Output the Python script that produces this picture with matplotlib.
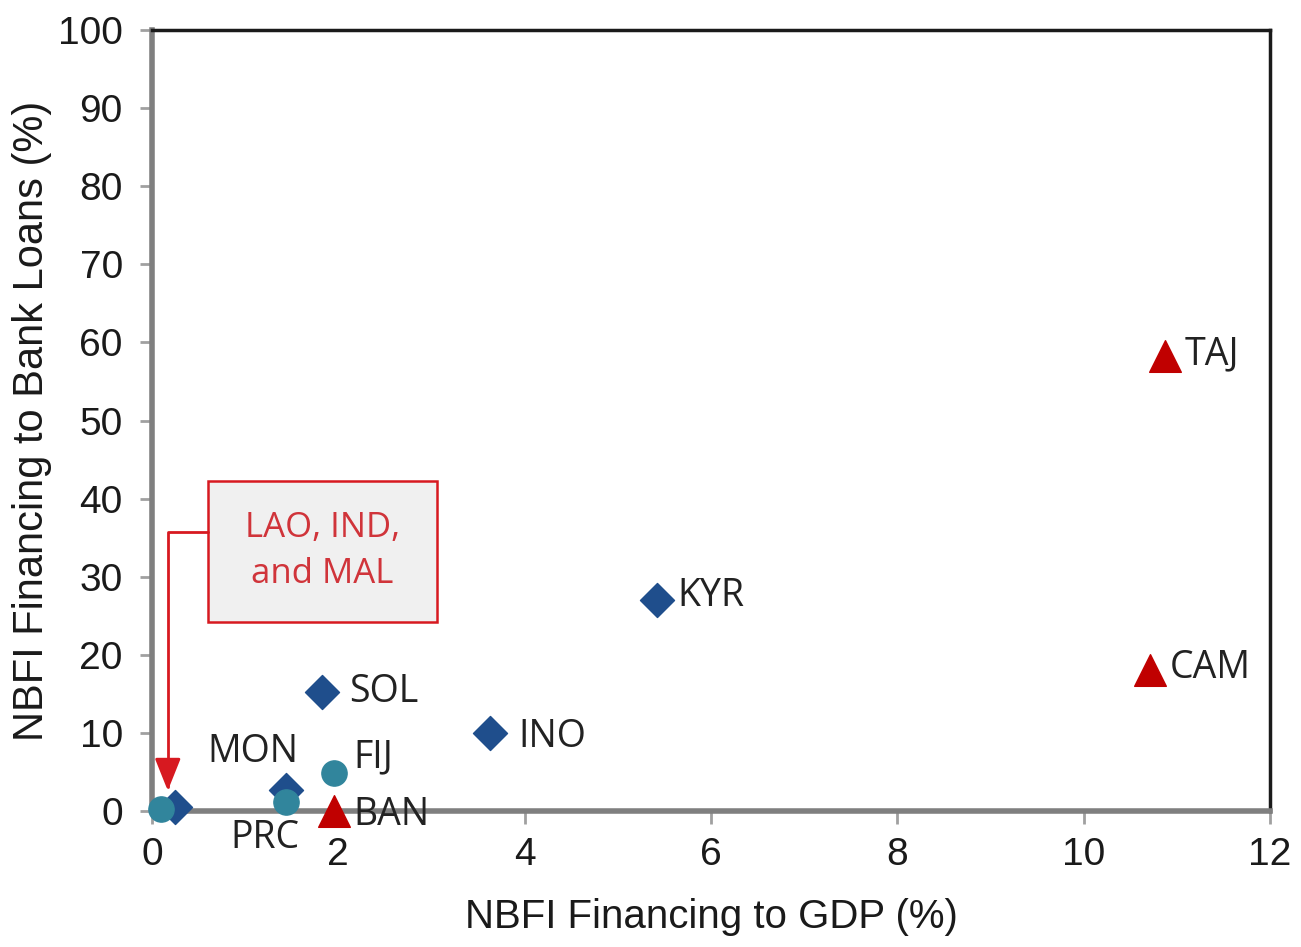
import matplotlib.pyplot as plt
from matplotlib.patches import Rectangle

# NBFI financing: x = % of GDP, y = % of bank loans
dia_names = ["", "MON", "SOL", "INO", "KYR"]
dia_x = [0.25, 1.44, 1.83, 3.63, 5.42]
dia_y = [0.5, 2.7, 15.2, 10.0, 27.0]

circ_names = ["", "PRC", "FIJ"]
circ_x = [0.10, 1.44, 1.95]
circ_y = [0.3, 1.2, 4.9]

tri_names = ["BAN", "CAM", "TAJ"]
tri_x = [1.95, 10.71, 10.87]
tri_y = [0.0, 18.0, 58.3]

x_ticks = [0, 2, 4, 6, 8, 10, 12]
y_ticks = [0, 10, 20, 30, 40, 50, 60, 70, 80, 90, 100]

BLUE = "#1F4E8C"
TEAL = "#31859C"
RED = "#C00000"
ARROW_RED = "#D71920"

fig = plt.figure(figsize=(13.01, 9.47), dpi=100)
ax = fig.add_axes([0.1168, 0.1436, 0.8594, 0.8247])

ax.scatter(dia_x, dia_y, marker="D", s=300, color=BLUE, zorder=4, clip_on=False)
ax.scatter(circ_x, circ_y, marker="o", s=330, color=TEAL, zorder=5, clip_on=False)
ax.scatter(tri_x, tri_y, marker="^", s=520, color=RED, zorder=4, clip_on=False)

lab_font = dict(family="Open Sans", fontsize=27, color="#222222", zorder=6)
# label offsets in points relative to each marker
offsets = {
    "MON": (-57, 27), "SOL": (19, 0), "INO": (20, -3), "KYR": (15, 3),
    "PRC": (-40, -26), "FIJ": (14, 11), "BAN": (14, -3),
    "CAM": (14, 2), "TAJ": (14, 1),
}
for names, xs, ys in [(dia_names, dia_x, dia_y), (circ_names, circ_x, circ_y),
                      (tri_names, tri_x, tri_y)]:
    for n, x, y in zip(names, xs, ys):
        if not n:
            continue
        ax.annotate(n, (x, y), xytext=offsets[n], textcoords="offset points",
                    va="center", ha="left", **lab_font)

# callout box for the points sitting at the origin
bx0, bx1, by0, by1 = 0.60, 3.06, 24.2, 42.3
ax.add_patch(Rectangle((bx0, by0), bx1 - bx0, by1 - by0, facecolor="#F0F0F0",
                       edgecolor=ARROW_RED, linewidth=1.8, zorder=3))
ax.text((bx0 + bx1) / 2, (by0 + by1) / 2, "LAO, IND,\nand MAL", ha="center",
        va="center", family="Open Sans", fontsize=25, color="#D0343A",
        linespacing=1.45, zorder=4)
ax.annotate("", xy=(0.17, 2.6), xytext=(bx0, 35.7),
            arrowprops=dict(arrowstyle="-|>,head_length=2.0,head_width=0.8",
                            color=ARROW_RED, lw=2,
                            connectionstyle="angle,angleA=0,angleB=90,rad=0",
                            shrinkA=0, shrinkB=0), zorder=6)

ax.set_xlim(0, 12)
ax.set_ylim(0, 100)
ax.set_xticks(x_ticks)
ax.set_yticks(y_ticks)

tick_font = dict(family="Liberation Sans", fontsize=28, color="#1a1a1a")
ax.set_xticklabels([str(t) for t in x_ticks], **tick_font)
ax.set_yticklabels([str(t) for t in y_ticks], **tick_font)
ax.tick_params(axis="both", direction="out", length=9, width=2,
               color="#A0A0A0")
ax.tick_params(axis="y", pad=12)
ax.tick_params(axis="x", pad=10)

ax.set_xlabel("NBFI Financing to GDP (%)", family="Liberation Sans",
              fontsize=29, color="#1a1a1a", labelpad=18)
ax.set_ylabel("NBFI Financing to Bank Loans (%)", family="Liberation Sans",
              fontsize=30, color="#1a1a1a", labelpad=4)

for side in ["left", "bottom"]:
    ax.spines[side].set_color("#7F7F7F")
    ax.spines[side].set_linewidth(4)
for side in ["top", "right"]:
    ax.spines[side].set_color("#1a1a1a")
    ax.spines[side].set_linewidth(2.5)
for sp in ax.spines.values():
    sp.set_zorder(3.5)

fig.savefig("out.png", dpi=100)
